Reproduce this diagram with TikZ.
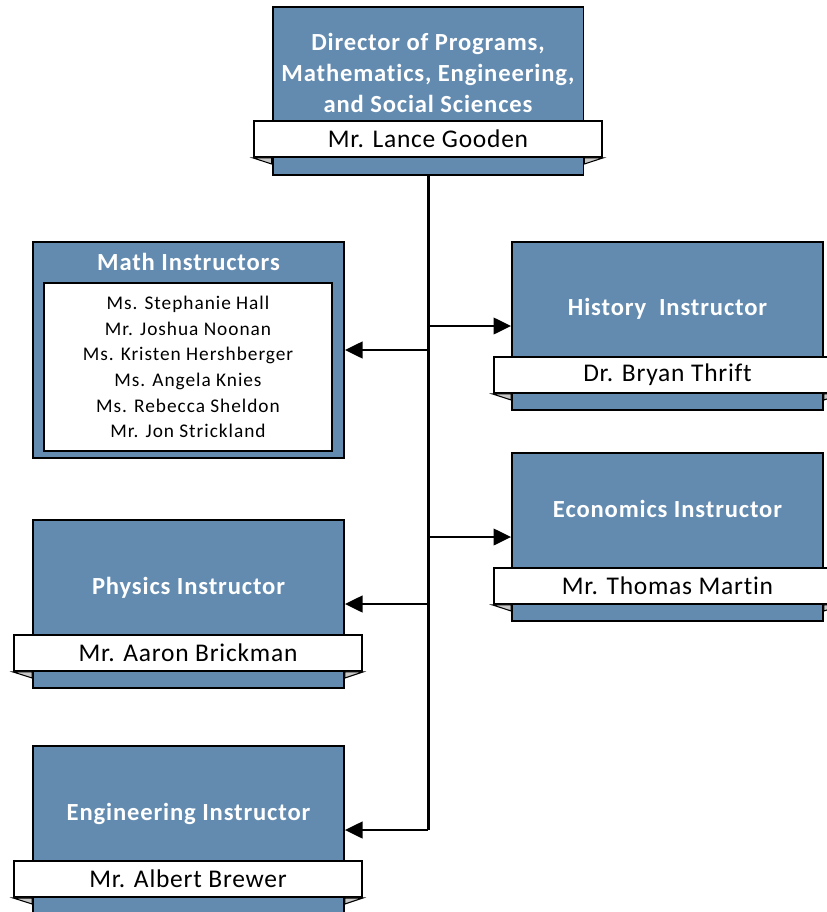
\documentclass[tikz,border=0pt]{standalone}
\usepackage{fontspec}
\setmainfont{Carlito}[Ligatures=NoCommon]
\newfontfamily\titlefont{Carlito}[LetterSpace=3.5,Ligatures=NoCommon]
\newfontfamily\namefont{Carlito}[LetterSpace=3,Ligatures=NoCommon]
\newfontfamily\stafffont{Carlito}[LetterSpace=5,Ligatures=NoCommon]
\usetikzlibrary{arrows.meta}
\definecolor{unitblue}{RGB}{99,139,176}
\definecolor{foldgrey}{RGB}{200,200,200}
\tikzstyle{unit}=[draw=black,fill=unitblue,inner sep=0mm,minimum width=6.22cm,minimum height=3.36cm]
\tikzstyle{band}=[draw=black,fill=white,inner sep=0mm,minimum width=6.96cm,minimum height=0.72cm,font=\namefont\fontsize{14.5}{16}\selectfont]
\tikzstyle{title}=[text=white,inner sep=0mm,align=center,font=\titlefont\bfseries\fontsize{14}{17.9}\selectfont]
\tikzstyle{staff}=[draw=black,fill=white,inner sep=0mm,minimum width=5.76cm,minimum height=3.36cm,align=center,font=\stafffont\fontsize{11}{14.6}\selectfont]
\tikzstyle{arrow}=[-{Triangle[length=10pt,width=9.5pt]}]
\tikzset{every picture/.style={
    line width=1.1pt
  }
}
\newcommand \tabs [2] {
  \draw[fill=foldgrey,line width=0.6pt] (#2.south west) -- (#1.west |- #2.south) -- ++(0,6) -- cycle;
  \draw[fill=foldgrey,line width=0.6pt] (#2.south east) -- (#1.east |- #2.south) -- ++(0,6) -- cycle;
}

\begin{document}
\begin{tikzpicture}[x=0.02cm,y=-0.02cm]
      \useasboundingbox (0,0) rectangle (826,912);
      \node[unit] at (428,91) (director) {};
      \node[title] at (428,73) (directorT) {Director of Programs,\\Mathematics, Engineering,\\and Social Sciences};
      \node[band] at (428,139) (directorN) {Mr. Lance Gooden};
      \tabs{director}{directorN}
      \node[unit,minimum height=4.32cm] at (188.5,350) (math) {};
      \node[title] at (188.5,262) (mathT) {Math Instructors};
      \node[staff] at (188,367) (mathN) {Ms. Stephanie Hall\\Mr. Joshua Noonan\\Ms. Kristen Hershberger\\Ms. Angela Knies\\Ms. Rebecca Sheldon\\Mr. Jon Strickland};
      \node[unit] at (667.5,326) (history) {};
      \node[title] at (667.5,309) (historyT) {History\ \ Instructor};
      \node[band] at (667.5,375) (historyN) {Dr. Bryan Thrift};
      \tabs{history}{historyN}
      \node[unit] at (667.5,537) (economics) {};
      \node[title] at (667.5,509) (economicsT) {Economics Instructor};
      \node[band] at (667.5,586) (economicsN) {Mr. Thomas Martin};
      \tabs{economics}{economicsN}
      \node[unit] at (188.5,604) (physics) {};
      \node[title] at (188.5,588) (physicsT) {Physics Instructor};
      \node[band] at (188,653) (physicsN) {Mr. Aaron Brickman};
      \tabs{physics}{physicsN}
      \node[unit] at (188.5,830) (engineering) {};
      \node[title] at (188.5,814) (engineeringT) {Engineering Instructor};
      \node[band] at (188,879) (engineeringN) {Mr. Albert Brewer};
      \tabs{engineering}{engineeringN}
      \coordinate (trunkend) at (428,830);
      \draw[line width=1.7pt] (director.south) -- (trunkend);
      \draw[arrow] (director.south |- history.west) -- (history.west);
      \draw[arrow] (director.south |- math.east) -- (math.east);
      \draw[arrow] (director.south |- economics.west) -- (economics.west);
      \draw[arrow] (director.south |- physics.east) -- (physics.east);
      \draw[arrow] (trunkend) -- (engineering.east);
    \end{tikzpicture}
\end{document}
